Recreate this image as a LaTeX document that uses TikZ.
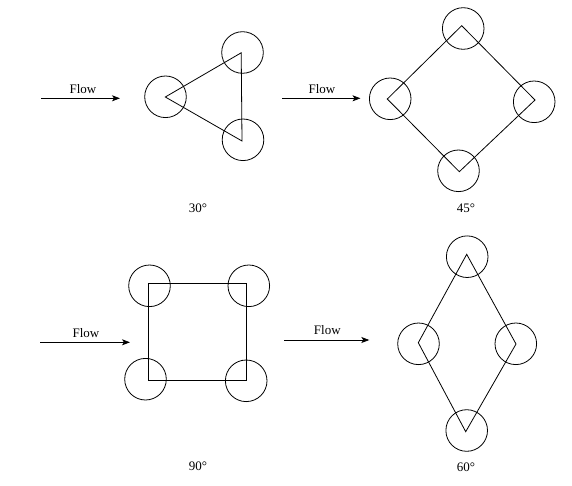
\documentclass[tikz,border=0pt]{standalone}
\usepackage{fontspec}
\setmainfont{Liberation Serif}
\usetikzlibrary{arrows.meta}
\begin{document}
\begin{tikzpicture}[x=1pt,y=-1pt,
  line width=0.8pt,
  cyl/.style={draw,circle,minimum size=41.6pt,inner sep=0pt},
  frame/.style={line width=0.8pt,line join=miter},
  flowarrow/.style={-{Stealth[length=8pt,width=6pt,inset=2pt]}},
  lbl/.style={font=\fontsize{13}{15}\selectfont,inner sep=0pt},
  every node/.style={font=\fontsize{13}{15}\selectfont}]
\useasboundingbox (0,0) rectangle (572,486);

% ---- 30 degree: equilateral triangle ----
\coordinate (t1) at (165.3,97);
\coordinate (t2) at (241.2,52.8);
\coordinate (t3) at (242,141);
\node[cyl] (tc1) at (165.5,96.8) {};
\node[cyl] (tc2) at (242.5,52.5) {};
\node[cyl] (tc3) at (243,139.8) {};
\draw[frame] (t1) -- (t2) -- (t3) -- cycle;
\coordinate (fa0) at (41,98.3);
\coordinate (fa1) at (120,98.3);
\draw[flowarrow] (fa0) -- (fa1);
\node[lbl] (fla) at (83,89) {Flow};
\node[lbl] (anga) at (198,208) {30°};

% ---- 45 degree: square on its corner ----
\coordinate (d1) at (461.7,25.7);
\coordinate (d2) at (535,100);
\coordinate (d3) at (459.3,171.7);
\coordinate (d4) at (387.3,99);
\node[cyl] (dc1) at (463.2,28.5) {};
\node[cyl] (dc2) at (534.2,101.8) {};
\node[cyl] (dc3) at (458.5,170.8) {};
\node[cyl] (dc4) at (390.2,98.8) {};
\draw[frame] (d1) -- (d2) -- (d3) -- (d4) -- cycle;
\coordinate (fb0) at (282,98.3);
\coordinate (fb1) at (360.5,98.3);
\draw[flowarrow] (fb0) -- (fb1);
\node[lbl] (flb) at (322,89) {Flow};
\node[lbl] (angb) at (466,208.3) {45°};

% ---- 90 degree: square ----
\coordinate (s1) at (148.5,283.3);
\coordinate (s2) at (246.7,283.3);
\coordinate (s3) at (246.7,380);
\coordinate (s4) at (148.5,380);
\node[cyl] (sc1) at (149.5,285.8) {};
\node[cyl] (sc2) at (248.8,285.8) {};
\node[cyl] (sc3) at (246.2,380.8) {};
\node[cyl] (sc4) at (145.5,379.2) {};
\draw[frame] (s1) -- (s2) -- (s3) -- (s4) -- cycle;
\coordinate (fc0) at (40,342.3);
\coordinate (fc1) at (130,342.3);
\draw[flowarrow] (fc0) -- (fc1);
\node[lbl] (flc) at (86,333) {Flow};
\node[lbl] (angc) at (198,466) {90°};

% ---- 60 degree: rhombus ----
\coordinate (r1) at (466.7,254.3);
\coordinate (r2) at (516,344);
\coordinate (r3) at (465.7,431.7);
\coordinate (r4) at (418.3,342.7);
\node[cyl] (rc1) at (467.2,256.7) {};
\node[cyl] (rc2) at (515.8,343.8) {};
\node[cyl] (rc3) at (466.7,430.5) {};
\node[cyl] (rc4) at (418.5,343.8) {};
\draw[frame] (r1) -- (r2) -- (r3) -- (r4) -- cycle;
\coordinate (fd0) at (284,340);
\coordinate (fd1) at (369.3,340);
\draw[flowarrow] (fd0) -- (fd1);
\node[lbl] (fld) at (327.3,330) {Flow};
\node[lbl] (angd) at (466,467) {60°};
\end{tikzpicture}
\end{document}
